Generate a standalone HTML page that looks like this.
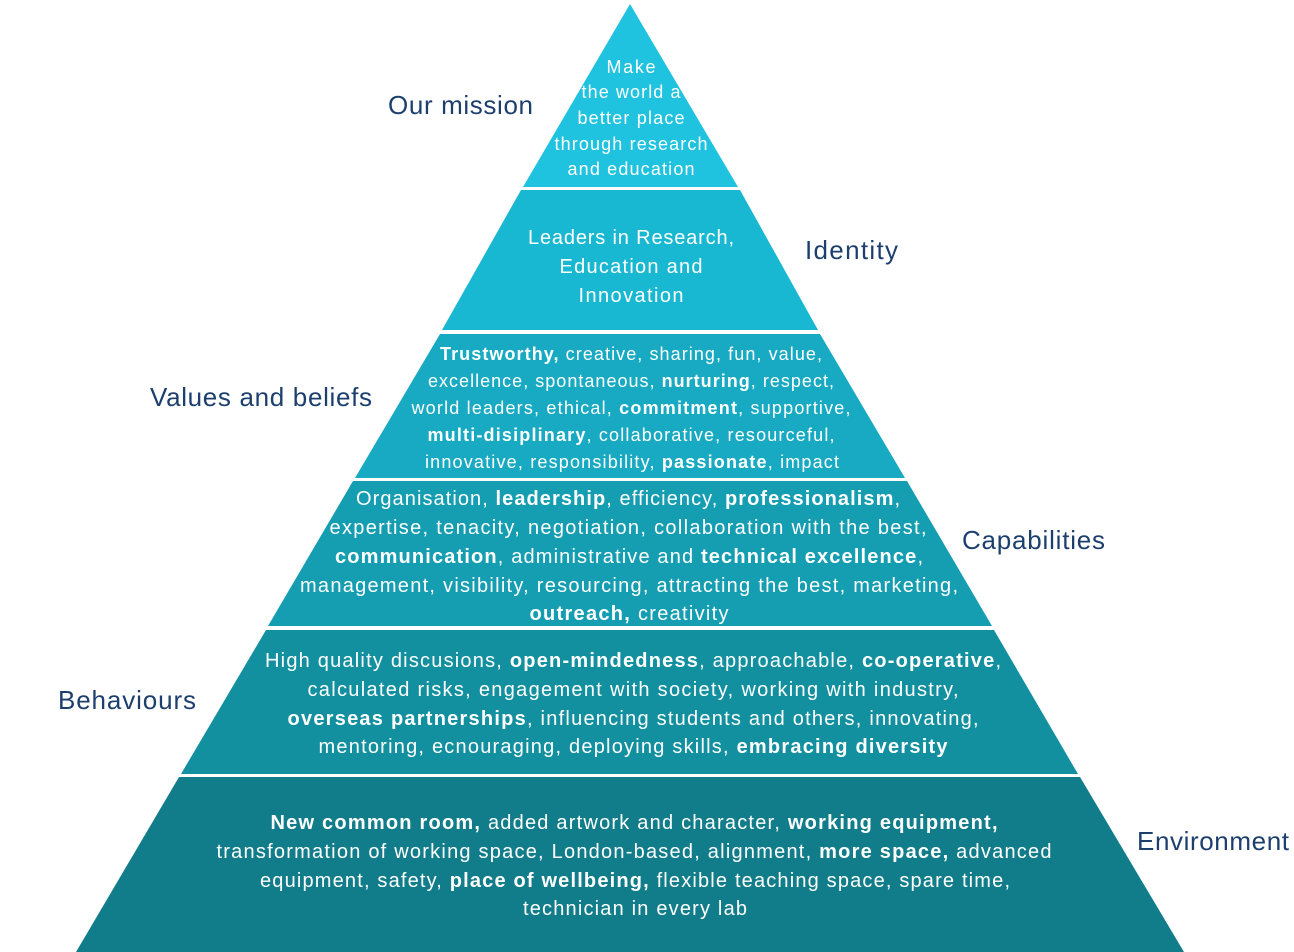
<!DOCTYPE html>
<html><head><meta charset="utf-8"><style>
html,body{margin:0;padding:0;background:#fff;width:1294px;height:952px;overflow:hidden}
svg{display:block}
.t{font-family:"Liberation Sans",sans-serif;fill:#fff;font-size:19px;text-anchor:middle}
.b{font-weight:bold}
.l{font-family:"Liberation Sans",sans-serif;fill:#1d3f6e;font-size:26px}
</style></head><body>
<svg width="1294" height="952" viewBox="0 0 1294 952">
<polygon points="630,4 738,187 523,187" fill="#1fc3df"/>
<polygon points="521,190 740,190 818,330 442,330" fill="#19b8d2"/>
<polygon points="440,334 820,334 905,478 355,478" fill="#17aac2"/>
<polygon points="353,481 907,481 992,626 268,626" fill="#159db2"/>
<polygon points="266,630 994,630 1078,774 181,774" fill="#1390a0"/>
<polygon points="179,777 1080,777 1184,952 76,952" fill="#127d8a"/>

<g class="t" style="font-size:18px">
<text x="631" y="73" textLength="49" lengthAdjust="spacing">Make</text>
<text x="631" y="98" textLength="99" lengthAdjust="spacing">the world a</text>
<text x="631" y="124" textLength="107" lengthAdjust="spacing">better place</text>
<text x="631" y="150" textLength="153" lengthAdjust="spacing">through research</text>
<text x="631" y="175" textLength="127" lengthAdjust="spacing">and education</text>
</g>
<g class="t" style="font-size:20px">
<text x="631" y="244" textLength="206" lengthAdjust="spacing">Leaders in Research,</text>
<text x="631" y="273" textLength="143" lengthAdjust="spacing">Education and</text>
<text x="631" y="302" textLength="105" lengthAdjust="spacing">Innovation</text>
</g>
<g class="t" style="font-size:18px">
<text x="631" y="360" textLength="382" lengthAdjust="spacing"><tspan class="b">Trustworthy,</tspan> creative, sharing, fun, value,</text>
<text x="631" y="387" textLength="406" lengthAdjust="spacing">excellence, spontaneous, <tspan class="b">nurturing</tspan>, respect,</text>
<text x="631" y="414" textLength="439" lengthAdjust="spacing">world leaders, ethical, <tspan class="b">commitment</tspan>, supportive,</text>
<text x="631" y="441" textLength="407" lengthAdjust="spacing"><tspan class="b">multi-disiplinary</tspan>, collaborative, resourceful,</text>
<text x="632" y="468" textLength="414" lengthAdjust="spacing">innovative, responsibility, <tspan class="b">passionate</tspan>, impact</text>
</g>
<g class="t" style="font-size:20px">
<text x="628" y="505" textLength="544" lengthAdjust="spacing">Organisation, <tspan class="b">leadership</tspan>, efficiency, <tspan class="b">professionalism</tspan>,</text>
<text x="628" y="534" textLength="597" lengthAdjust="spacing">expertise, tenacity, negotiation, collaboration with the best,</text>
<text x="629" y="563" textLength="588" lengthAdjust="spacing"><tspan class="b">communication</tspan>, administrative and <tspan class="b">technical excellence</tspan>,</text>
<text x="629" y="592" textLength="658" lengthAdjust="spacing">management, visibility, resourcing, attracting the best, marketing,</text>
<text x="629" y="620" textLength="199" lengthAdjust="spacing"><tspan class="b">outreach,</tspan> creativity</text>
</g>
<g class="t" style="font-size:20px">
<text x="633" y="667" textLength="736" lengthAdjust="spacing">High quality discusions, <tspan class="b">open-mindedness</tspan>, approachable, <tspan class="b">co-operative</tspan>,</text>
<text x="633" y="696" textLength="651" lengthAdjust="spacing">calculated risks, engagement with society, working with industry,</text>
<text x="633" y="725" textLength="691" lengthAdjust="spacing"><tspan class="b">overseas partnerships</tspan>, influencing students and others, innovating,</text>
<text x="633" y="753" textLength="629" lengthAdjust="spacing">mentoring, ecnouraging, deploying skills, <tspan class="b">embracing diversity</tspan></text>
</g>
<g class="t" style="font-size:20px">
<text x="634" y="829" textLength="727" lengthAdjust="spacing"><tspan class="b">New common room,</tspan> added artwork and character, <tspan class="b">working equipment,</tspan></text>
<text x="634" y="858" textLength="835" lengthAdjust="spacing">transformation of working space, London-based, alignment, <tspan class="b">more space,</tspan> advanced</text>
<text x="635" y="887" textLength="750" lengthAdjust="spacing">equipment, safety, <tspan class="b">place of wellbeing,</tspan> flexible teaching space, spare time,</text>
<text x="635" y="915" textLength="224" lengthAdjust="spacing">technician in every lab</text>
</g>

<text class="l" x="388" y="114" textLength="145" lengthAdjust="spacing">Our mission</text>
<text class="l" x="805" y="259" textLength="93" lengthAdjust="spacing">Identity</text>
<text class="l" x="150" y="406" textLength="222" lengthAdjust="spacing">Values and beliefs</text>
<text class="l" x="962" y="549" textLength="143" lengthAdjust="spacing">Capabilities</text>
<text class="l" x="58" y="709" textLength="138" lengthAdjust="spacing">Behaviours</text>
<text class="l" x="1137" y="850" textLength="152" lengthAdjust="spacing">Environment</text>
</svg>
</body></html>
